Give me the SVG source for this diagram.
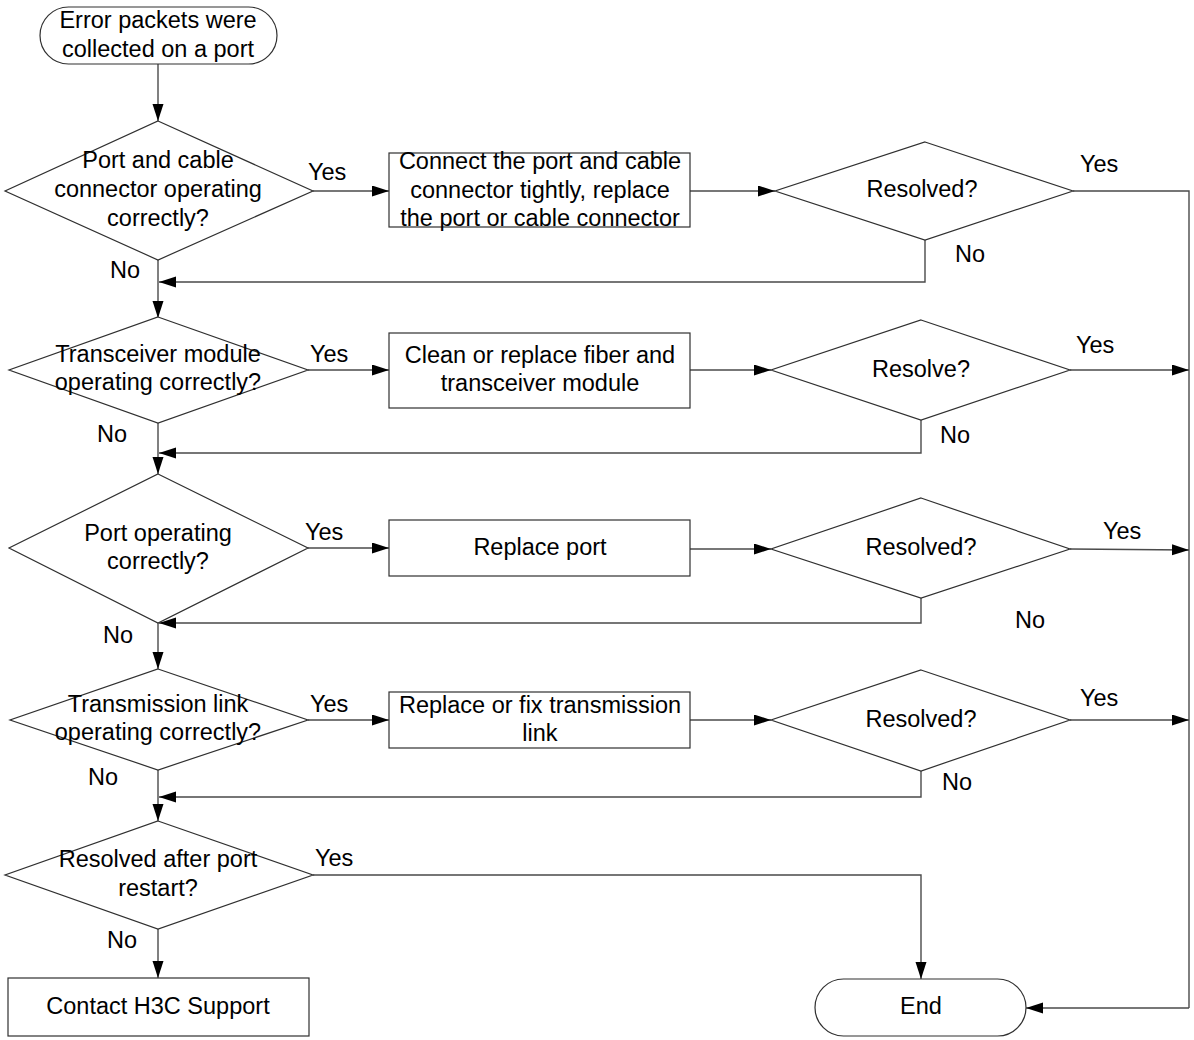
<svg xmlns="http://www.w3.org/2000/svg" width="1194" height="1040" viewBox="0 0 1194 1040">
<defs>
<marker id="arr" markerUnits="userSpaceOnUse" markerWidth="18" markerHeight="12" refX="17" refY="5.5" orient="auto">
<path d="M0,0 L17,5.5 L0,11 z" fill="#000"/>
</marker>
<style>
.s{fill:#fff;stroke:#303030;stroke-width:1.2}
.c{fill:none;stroke:#4a4a4a;stroke-width:1.4}
.a{marker-end:url(#arr)}
text{font-family:"Liberation Sans",Arial,sans-serif;font-size:23.5px;fill:#000}
.m{text-anchor:middle}
</style>
</defs>
<rect width="1194" height="1040" fill="#fff"/>
<g id="connectors">
<line class="c a" x1="158" y1="64" x2="158" y2="121"/>
<line class="c a" x1="313" y1="191" x2="389" y2="191"/>
<line class="c a" x1="690" y1="191" x2="775" y2="191"/>
<polyline class="c" points="1073,191 1189,191 1189,1008"/>
<line class="c a" x1="1189" y1="1008" x2="1026" y2="1008"/>
<polyline class="c a" points="925,240 925,282 159,282"/>
<line class="c a" x1="158" y1="260" x2="158" y2="318"/>
<line class="c a" x1="308" y1="370" x2="389" y2="370"/>
<line class="c a" x1="690" y1="370" x2="771" y2="370"/>
<line class="c a" x1="1070" y1="370" x2="1189" y2="370"/>
<polyline class="c a" points="921,420 921,453 159,453"/>
<line class="c a" x1="158" y1="423" x2="158" y2="474"/>
<line class="c a" x1="308" y1="548" x2="389" y2="548"/>
<line class="c a" x1="690" y1="549" x2="771" y2="549"/>
<line class="c a" x1="1070" y1="549" x2="1189" y2="550"/>
<polyline class="c a" points="921,598 921,623 159,623"/>
<line class="c a" x1="158" y1="623" x2="158" y2="669"/>
<line class="c a" x1="308" y1="720" x2="389" y2="720"/>
<line class="c a" x1="690" y1="720" x2="771" y2="720"/>
<line class="c a" x1="1070" y1="720" x2="1189" y2="720"/>
<polyline class="c a" points="921,771 921,797 159,797"/>
<line class="c a" x1="158" y1="770" x2="158" y2="821"/>
<polyline class="c a" points="313,875 921,875 921,979"/>
<line class="c a" x1="158" y1="929" x2="158" y2="978"/>
</g>
<g id="labels">
<text x="308" y="180">Yes</text>
<text x="1080" y="172">Yes</text>
<text x="955" y="262">No</text>
<text x="110" y="278">No</text>
<text x="310" y="362">Yes</text>
<text x="1076" y="353">Yes</text>
<text x="940" y="443">No</text>
<text x="97" y="442">No</text>
<text x="305" y="540">Yes</text>
<text x="1103" y="539">Yes</text>
<text x="1015" y="628">No</text>
<text x="103" y="643">No</text>
<text x="310" y="712">Yes</text>
<text x="1080" y="706">Yes</text>
<text x="942" y="790">No</text>
<text x="88" y="785">No</text>
<text x="315" y="866">Yes</text>
<text x="107" y="948">No</text>
</g>
<g id="start">
<rect class="s" x="40" y="7" width="237" height="57" rx="28.5" ry="28.5"/>
<text class="m" x="158" y="28">Error packets were</text>
<text class="m" x="158" y="57">collected on a port</text>
</g>
<g id="d1">
<polygon class="s" points="158,121 313,191 158,260 5,191"/>
<text class="m" x="158" y="168">Port and cable</text>
<text class="m" x="158" y="197">connector operating</text>
<text class="m" x="158" y="226">correctly?</text>
</g>
<g id="b1">
<rect class="s" x="389" y="153" width="301" height="74"/>
<text class="m" x="540" y="169">Connect the port and cable</text>
<text class="m" x="540" y="198">connector tightly, replace</text>
<text class="m" x="540" y="226">the port or cable connector</text>
</g>
<g id="r1">
<polygon class="s" points="925,142 1073,191 925,240 775,191"/>
<text class="m" x="922" y="197">Resolved?</text>
</g>
<g id="d2">
<polygon class="s" points="158,317 308,370 158,423 9,370"/>
<text class="m" x="158" y="362">Transceiver module</text>
<text class="m" x="158" y="390">operating correctly?</text>
</g>
<g id="b2">
<rect class="s" x="389" y="333" width="301" height="75"/>
<text class="m" x="540" y="363">Clean or replace fiber and</text>
<text class="m" x="540" y="391">transceiver module</text>
</g>
<g id="r2">
<polygon class="s" points="921,320 1070,370 921,420 771,370"/>
<text class="m" x="921" y="377">Resolve?</text>
</g>
<g id="d3">
<polygon class="s" points="158,474 308,548 158,623 9,548"/>
<text class="m" x="158" y="541">Port operating</text>
<text class="m" x="158" y="569">correctly?</text>
</g>
<g id="b3">
<rect class="s" x="389" y="520" width="301" height="56"/>
<text class="m" x="540" y="555">Replace port</text>
</g>
<g id="r3">
<polygon class="s" points="921,498 1070,549 921,598 771,549"/>
<text class="m" x="921" y="555">Resolved?</text>
</g>
<g id="d4">
<polygon class="s" points="158,669 308,720 158,770 10,720"/>
<text class="m" x="158" y="712">Transmission link</text>
<text class="m" x="158" y="740">operating correctly?</text>
</g>
<g id="b4">
<rect class="s" x="389" y="692" width="301" height="56"/>
<text class="m" x="540" y="713">Replace or fix transmission</text>
<text class="m" x="540" y="741">link</text>
</g>
<g id="r4">
<polygon class="s" points="921,670 1070,720 921,771 771,720"/>
<text class="m" x="921" y="727">Resolved?</text>
</g>
<g id="d5">
<polygon class="s" points="158,821 313,875 158,929 5,875"/>
<text class="m" x="158" y="867">Resolved after port</text>
<text class="m" x="158" y="896">restart?</text>
</g>
<g id="support">
<rect class="s" x="8" y="978" width="301" height="58"/>
<text class="m" x="158" y="1014">Contact H3C Support</text>
</g>
<g id="end">
<rect class="s" x="815" y="979" width="211" height="57" rx="28.5" ry="28.5"/>
<text class="m" x="921" y="1014">End</text>
</g>
</svg>
